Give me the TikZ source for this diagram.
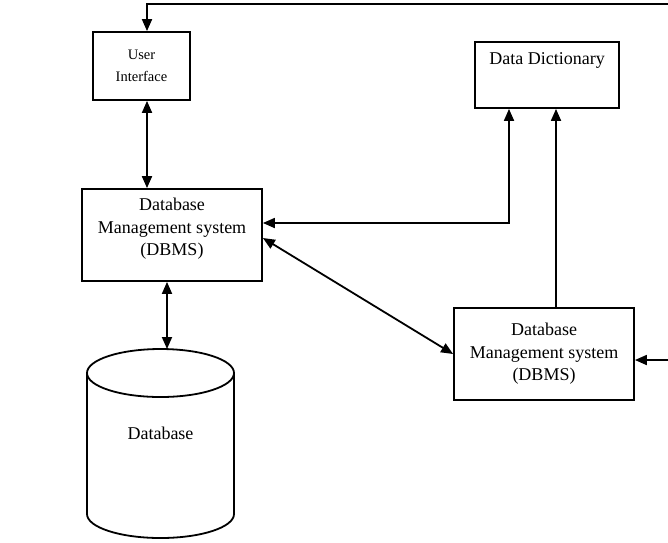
\documentclass[tikz,border=0pt]{standalone}
\usepackage{fontspec}
\setmainfont{Liberation Serif}
\usetikzlibrary{arrows.meta}
\begin{document}
\begin{tikzpicture}[x=1pt,y=-1pt,line width=1.8pt,
  boxstyle/.style={draw,rectangle,inner sep=0pt,align=center},
  bigtext/.style={font=\fontsize{18}{22.5}\selectfont,align=center},
  smalltext/.style={font=\fontsize{14.5}{22}\selectfont,align=center},
  arr/.style={-{Triangle[length=12pt,width=10pt]}},
  dbl/.style={{Triangle[length=12pt,width=10pt]}-{Triangle[length=12pt,width=10pt]}}]
\fill[white] (0,0) rectangle (668,542);
\useasboundingbox (0,0) rectangle (668,542);

% boxes
\node[boxstyle,smalltext,minimum width=97pt,minimum height=68pt] (ui) at (141.5,66) {User\\Interface};
\node[boxstyle,minimum width=144pt,minimum height=66pt,
  label={[bigtext,anchor=north,inner sep=0pt,yshift=-11pt]north:Data Dictionary}] (dd) at (547,75) {};
\node[boxstyle,minimum width=180pt,minimum height=92pt,
  label={[bigtext,inner sep=0pt,yshift=6pt]center:Database\\Management system\\(DBMS)}] (dbms1) at (172,235) {};
\node[boxstyle,bigtext,minimum width=180pt,minimum height=92pt] (dbms2) at (544,354) {Database\\Management system\\(DBMS)};

% database cylinder
\draw (87,373) -- (87,514) arc[start angle=180,end angle=0,x radius=73.5,y radius=24] -- (234,373);
\draw (160.5,373) ellipse[x radius=73.5,y radius=24];
\node[bigtext] (db) at (160.5,433) {Database};
\coordinate (dbtop) at (167,349);

% free ends
\coordinate (topright) at (668,4);
\coordinate (rightin) at (668,360);

% connectors
\draw[arr] (topright) -| ([xshift=5.5pt]ui.north);
\draw[dbl] ([xshift=5.5pt]ui.south) -- ([xshift=5.5pt]ui.south |- dbms1.north);
\draw[dbl] (dbtop |- dbms1.south) -- (dbtop);
\draw[dbl] ([yshift=12pt]dbms1.east) -| ([xshift=-38pt]dd.south);
\draw[dbl] ([yshift=-3pt]dbms1.east) -- (dbms2.west);
\draw[arr] ([xshift=9pt]dd.south |- dbms2.north) -- ([xshift=9pt]dd.south);
\draw[arr] (rightin) -- (rightin -| dbms2.east);
\end{tikzpicture}
\end{document}
